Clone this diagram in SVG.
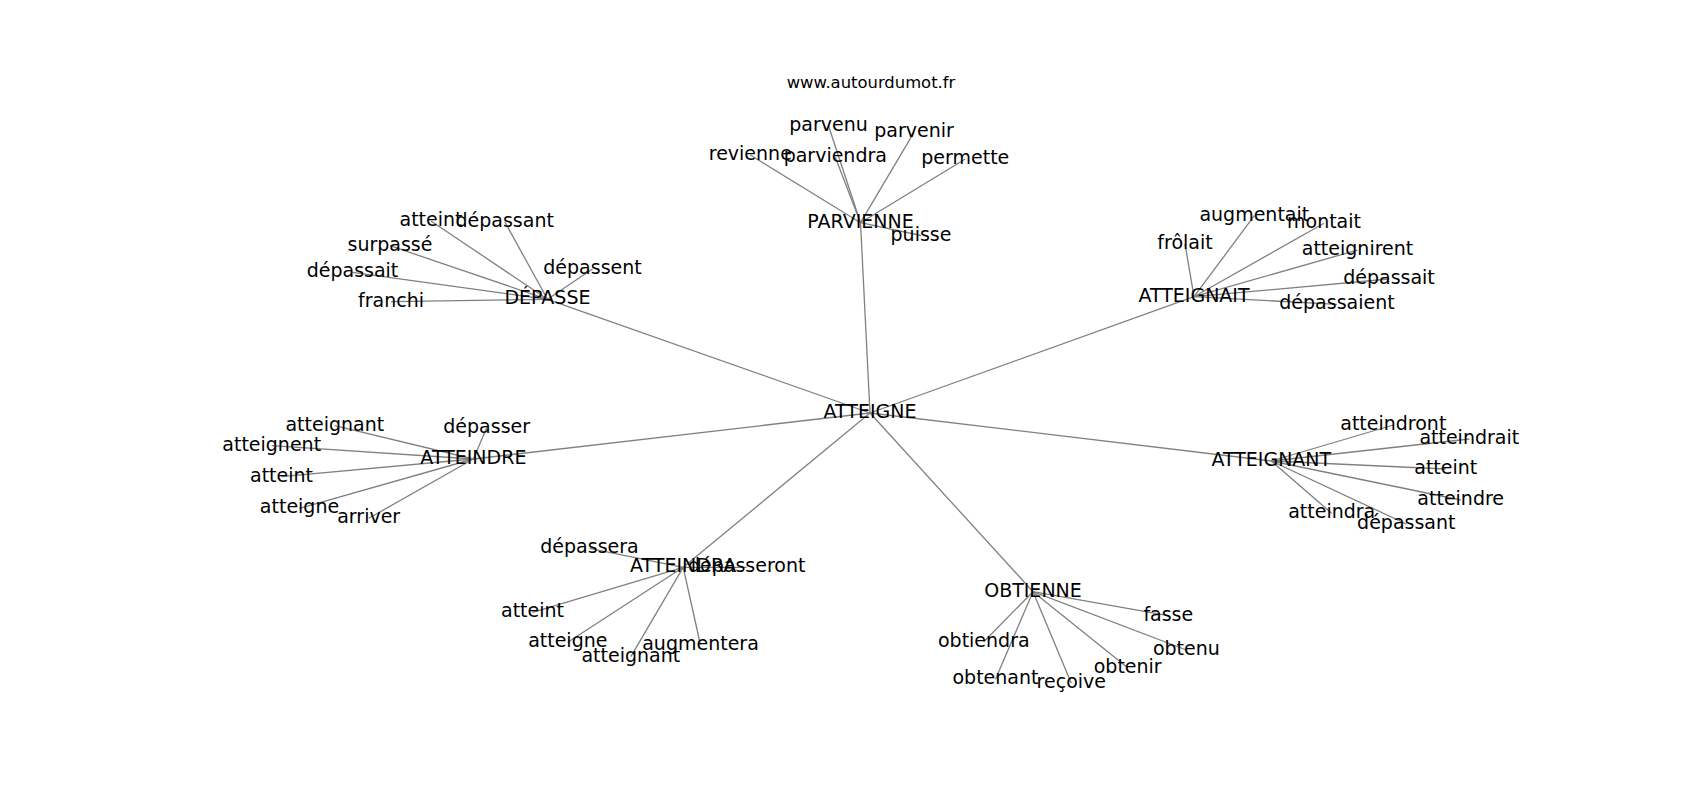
<svg xmlns="http://www.w3.org/2000/svg" width="1700" height="800" viewBox="0 0 1700 800">
<style>
.e line{stroke:#808080;stroke-width:1.3;fill:none}
text{font-family:"DejaVu Sans","Liberation Sans",sans-serif;fill:#000;text-anchor:middle}
.node text{font-size:19px}
.title{font-size:16.4px}
</style>
<rect width="1700" height="800" fill="#fff"/>
<g id="connectors" class="e">
<line x1="870" y1="413" x2="860.5" y2="222.7"/>
<line x1="860.5" y1="222.7" x2="828.5" y2="125.7"/>
<line x1="860.5" y1="222.7" x2="914" y2="132.3"/>
<line x1="860.5" y1="222.7" x2="750.3" y2="155"/>
<line x1="860.5" y1="222.7" x2="835.3" y2="157.3"/>
<line x1="860.5" y1="222.7" x2="965.3" y2="159"/>
<line x1="860.5" y1="222.7" x2="921" y2="235.5"/>
<line x1="870" y1="413" x2="547.5" y2="299.3"/>
<line x1="547.5" y1="299.3" x2="431" y2="221"/>
<line x1="547.5" y1="299.3" x2="504.7" y2="221.7"/>
<line x1="547.5" y1="299.3" x2="390" y2="245.7"/>
<line x1="547.5" y1="299.3" x2="592.5" y2="269"/>
<line x1="547.5" y1="299.3" x2="352.5" y2="272.3"/>
<line x1="547.5" y1="299.3" x2="391" y2="301.7"/>
<line x1="870" y1="413" x2="1194" y2="296.7"/>
<line x1="1194" y1="296.7" x2="1254.3" y2="215.7"/>
<line x1="1194" y1="296.7" x2="1324" y2="223.3"/>
<line x1="1194" y1="296.7" x2="1185" y2="244"/>
<line x1="1194" y1="296.7" x2="1357.5" y2="250"/>
<line x1="1194" y1="296.7" x2="1389" y2="279"/>
<line x1="1194" y1="296.7" x2="1337" y2="304.3"/>
<line x1="870" y1="413" x2="473.4" y2="459"/>
<line x1="473.4" y1="459" x2="334.8" y2="425.7"/>
<line x1="473.4" y1="459" x2="486.7" y2="427.7"/>
<line x1="473.4" y1="459" x2="271.7" y2="445.7"/>
<line x1="473.4" y1="459" x2="281.5" y2="476.7"/>
<line x1="473.4" y1="459" x2="299.5" y2="508.3"/>
<line x1="473.4" y1="459" x2="368.7" y2="518.3"/>
<line x1="870" y1="413" x2="1271.3" y2="461"/>
<line x1="1271.3" y1="461" x2="1393.3" y2="425"/>
<line x1="1271.3" y1="461" x2="1469.3" y2="439"/>
<line x1="1271.3" y1="461" x2="1445.8" y2="469"/>
<line x1="1271.3" y1="461" x2="1460.7" y2="500"/>
<line x1="1271.3" y1="461" x2="1331.7" y2="513.3"/>
<line x1="1271.3" y1="461" x2="1406.3" y2="524"/>
<line x1="870" y1="413" x2="683.2" y2="567.3"/>
<line x1="683.2" y1="567.3" x2="589.5" y2="548.3"/>
<line x1="683.2" y1="567.3" x2="746.7" y2="567.3"/>
<line x1="683.2" y1="567.3" x2="532.5" y2="612.3"/>
<line x1="683.2" y1="567.3" x2="567.8" y2="642.3"/>
<line x1="683.2" y1="567.3" x2="700.5" y2="645"/>
<line x1="683.2" y1="567.3" x2="630.8" y2="656.7"/>
<line x1="870" y1="413" x2="1033" y2="591.7"/>
<line x1="1033" y1="591.7" x2="1168.3" y2="615.7"/>
<line x1="1033" y1="591.7" x2="983.8" y2="641.7"/>
<line x1="1033" y1="591.7" x2="1186.4" y2="650"/>
<line x1="1033" y1="591.7" x2="1127.7" y2="667.7"/>
<line x1="1033" y1="591.7" x2="995.5" y2="679.3"/>
<line x1="1033" y1="591.7" x2="1071.3" y2="683.3"/>
</g>
<text class="title" x="871" y="88.3">www.autourdumot.fr</text>
<g id="n-atteigne" class="node"><text x="870" y="418">ATTEIGNE</text></g>
<g id="n-parvienne" class="node"><text x="860.5" y="227.7">PARVIENNE</text></g>
<g id="n-parvienne-parvenu" class="node"><text x="828.5" y="130.7">parvenu</text></g>
<g id="n-parvienne-parvenir" class="node"><text x="914" y="137.3">parvenir</text></g>
<g id="n-parvienne-revienne" class="node"><text x="750.3" y="160">revienne</text></g>
<g id="n-parvienne-parviendra" class="node"><text x="835.3" y="162.3">parviendra</text></g>
<g id="n-parvienne-permette" class="node"><text x="965.3" y="164">permette</text></g>
<g id="n-parvienne-puisse" class="node"><text x="921" y="240.5">puisse</text></g>
<g id="n-depasse" class="node"><text x="547.5" y="304.3">DÉPASSE</text></g>
<g id="n-depasse-atteint" class="node"><text x="431" y="226">atteint</text></g>
<g id="n-depasse-depassant" class="node"><text x="504.7" y="226.7">dépassant</text></g>
<g id="n-depasse-surpasse" class="node"><text x="390" y="250.7">surpassé</text></g>
<g id="n-depasse-depassent" class="node"><text x="592.5" y="274">dépassent</text></g>
<g id="n-depasse-depassait" class="node"><text x="352.5" y="277.3">dépassait</text></g>
<g id="n-depasse-franchi" class="node"><text x="391" y="306.7">franchi</text></g>
<g id="n-atteignait" class="node"><text x="1194" y="301.7">ATTEIGNAIT</text></g>
<g id="n-atteignait-augmentait" class="node"><text x="1254.3" y="220.7">augmentait</text></g>
<g id="n-atteignait-montait" class="node"><text x="1324" y="228.3">montait</text></g>
<g id="n-atteignait-frolait" class="node"><text x="1185" y="249">frôlait</text></g>
<g id="n-atteignait-atteignirent" class="node"><text x="1357.5" y="255">atteignirent</text></g>
<g id="n-atteignait-depassait" class="node"><text x="1389" y="284">dépassait</text></g>
<g id="n-atteignait-depassaient" class="node"><text x="1337" y="309.3">dépassaient</text></g>
<g id="n-atteindre" class="node"><text x="473.4" y="464">ATTEINDRE</text></g>
<g id="n-atteindre-atteignant" class="node"><text x="334.8" y="430.7">atteignant</text></g>
<g id="n-atteindre-depasser" class="node"><text x="486.7" y="432.7">dépasser</text></g>
<g id="n-atteindre-atteignent" class="node"><text x="271.7" y="450.7">atteignent</text></g>
<g id="n-atteindre-atteint" class="node"><text x="281.5" y="481.7">atteint</text></g>
<g id="n-atteindre-atteigne" class="node"><text x="299.5" y="513.3">atteigne</text></g>
<g id="n-atteindre-arriver" class="node"><text x="368.7" y="523.3">arriver</text></g>
<g id="n-atteignant" class="node"><text x="1271.3" y="466">ATTEIGNANT</text></g>
<g id="n-atteignant-atteindront" class="node"><text x="1393.3" y="430">atteindront</text></g>
<g id="n-atteignant-atteindrait" class="node"><text x="1469.3" y="444">atteindrait</text></g>
<g id="n-atteignant-atteint" class="node"><text x="1445.8" y="474">atteint</text></g>
<g id="n-atteignant-atteindre" class="node"><text x="1460.7" y="505">atteindre</text></g>
<g id="n-atteignant-atteindra" class="node"><text x="1331.7" y="518.3">atteindra</text></g>
<g id="n-atteignant-depassant" class="node"><text x="1406.3" y="529">dépassant</text></g>
<g id="n-atteindra" class="node"><text x="683.2" y="572.3">ATTEINDRA</text></g>
<g id="n-atteindra-depassera" class="node"><text x="589.5" y="553.3">dépassera</text></g>
<g id="n-atteindra-depasseront" class="node"><text x="746.7" y="572.3">dépasseront</text></g>
<g id="n-atteindra-atteint" class="node"><text x="532.5" y="617.3">atteint</text></g>
<g id="n-atteindra-atteigne" class="node"><text x="567.8" y="647.3">atteigne</text></g>
<g id="n-atteindra-augmentera" class="node"><text x="700.5" y="650">augmentera</text></g>
<g id="n-atteindra-atteignant" class="node"><text x="630.8" y="661.7">atteignant</text></g>
<g id="n-obtienne" class="node"><text x="1033" y="596.7">OBTIENNE</text></g>
<g id="n-obtienne-fasse" class="node"><text x="1168.3" y="620.7">fasse</text></g>
<g id="n-obtienne-obtiendra" class="node"><text x="983.8" y="646.7">obtiendra</text></g>
<g id="n-obtienne-obtenu" class="node"><text x="1186.4" y="655">obtenu</text></g>
<g id="n-obtienne-obtenir" class="node"><text x="1127.7" y="672.7">obtenir</text></g>
<g id="n-obtienne-obtenant" class="node"><text x="995.5" y="684.3">obtenant</text></g>
<g id="n-obtienne-recoive" class="node"><text x="1071.3" y="688.3">reçoive</text></g>
</svg>
